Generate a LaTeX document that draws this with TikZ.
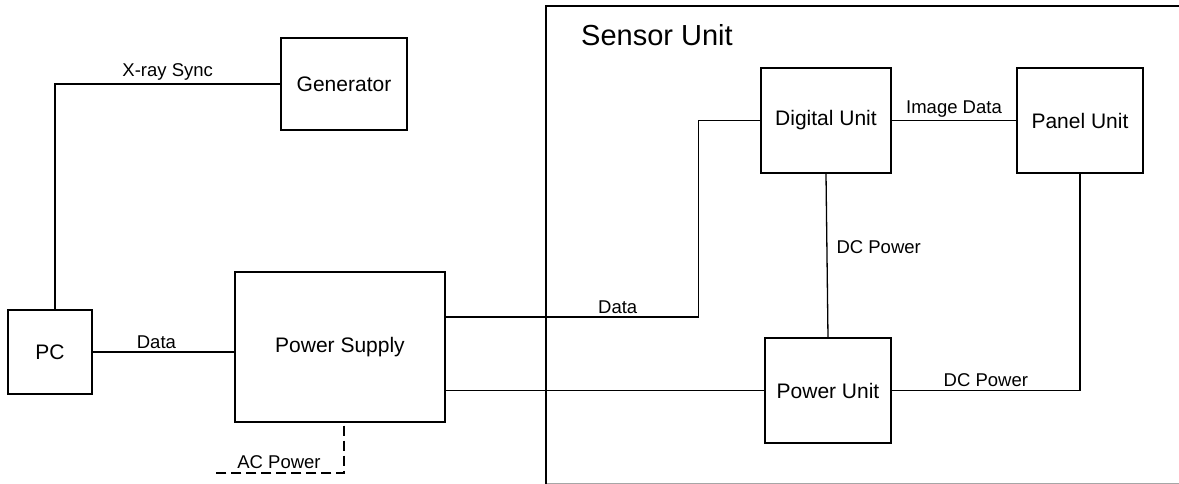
\documentclass[tikz,border=0pt]{standalone}
\usepackage{fontspec}
\setmainfont{Liberation Sans}
\usepackage{tikz}
\usetikzlibrary{positioning}
\tikzstyle{sheet} = [x = 1pt, y = -1pt]
\tikzstyle{unitStyle} = [draw, line width = 1.3pt, inner sep = 0pt, font = \fontsize{21}{24}\selectfont]
\tikzstyle{wireLine} = [line width = 1.3pt]
\tikzstyle{acLine} = [line width = 2.5pt, dash pattern = on 10pt off 5pt]
\tikzstyle{wireText} = [font = \fontsize{18.5}{22}\selectfont, inner sep = 3pt]
\tikzstyle{sensorFrame} = [line width = 2.4pt]
\newcommand{\unitBox}[5]{\node [unitStyle, minimum width = #4pt, minimum height = #5pt] (#1) at (#2) {#3};}

\begin{document}
\begin{tikzpicture}[sheet]
  \useasboundingbox (0,0) rectangle (1179,484);
  \clip (0,0) rectangle (1179,484);
  % sensor unit frame, open on the right
  \draw [sensorFrame] (1185,6) -- (546,6) -- (546,490);
  \draw [line width = 1pt, color = black!35] (547,483) -- (1185,483);
  \node [font = \fontsize{29}{34}\selectfont] (sensorTitle) at (657,35) {Sensor Unit};

  \unitBox{gen}{344,84}{Generator}{126}{92}
  \unitBox{pc}{50,352}{PC}{84}{84}
  \unitBox{psu}{340,347}{Power Supply}{210}{150}
  \unitBox{dig}{826,120.5}{Digital Unit}{130}{105}
  \unitBox{pnl}{1080,120.5}{Panel Unit}{126}{105}
  \unitBox{pwr}{828,390.5}{Power Unit}{126}{105}

  \coordinate (acEnd) at (214,473);

  \draw [wireLine] ([xshift=5pt]pc.north) |- node [wireText, above, pos=.75] {X-ray Sync} (gen.west);
  \draw [wireLine] (pc.east) -- node [wireText, above, pos=.45] {Data} (pc.east -| psu.west);
  \draw [wireLine] ([yshift=30pt]psu.east) -- node [wireText, above, pos=.68] {Data} ++(253,0) |- (dig.west);
  \draw [wireLine] (psu.east |- pwr.west) -- (pwr.west);
  \draw [wireLine] (dig.east) -- node [wireText, above] {Image Data} (pnl.west);
  \draw [wireLine] (dig.south) -- node [wireText, right, xshift=6pt, pos=.45] {DC Power} (pwr.north);
  \draw [wireLine] (pwr.east) -| node [wireText, above, pos=.25] {DC Power} (pnl.south);
  \draw [acLine] ([xshift=4pt,yshift=-3pt]psu.south) |- node [wireText, above, pos=.75] {AC Power} (acEnd);
\end{tikzpicture}
\end{document}
